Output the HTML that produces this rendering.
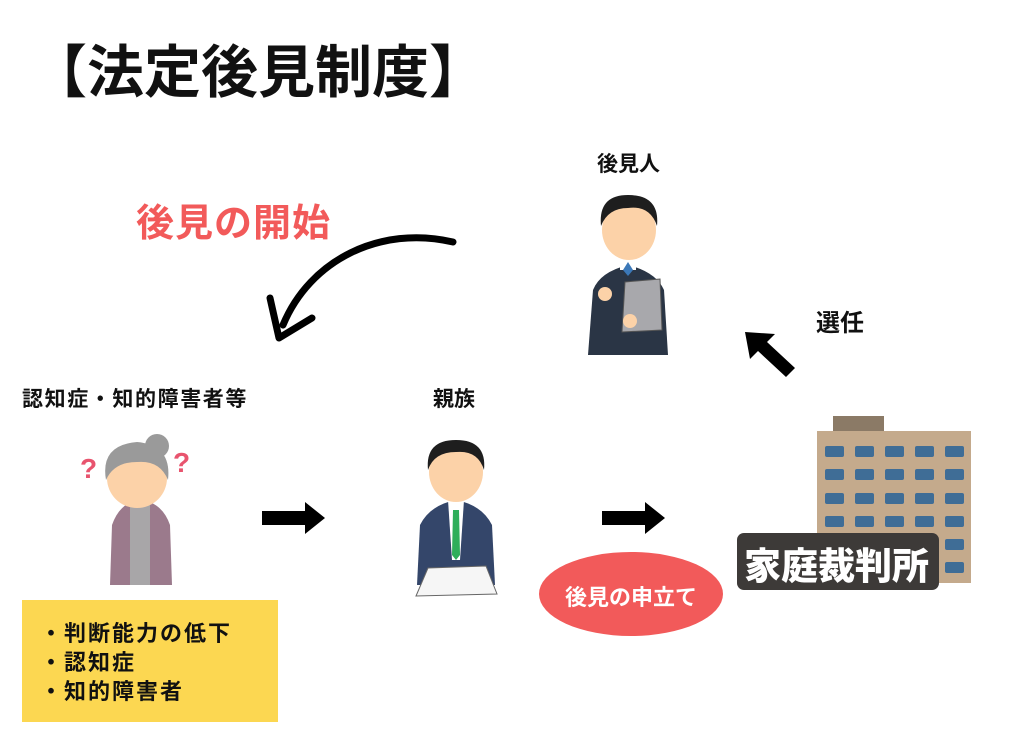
<!DOCTYPE html>
<html><head><meta charset="utf-8"><style>
body{margin:0;width:1025px;height:754px;background:#fff;overflow:hidden;position:relative;font-family:"Liberation Sans","Noto Sans CJK JP",sans-serif}
.t{position:absolute;white-space:nowrap;font-weight:bold;color:#111}
</style></head><body>
<svg width="1025" height="754" style="position:absolute;left:0;top:0">
<path d="M453,242 C380,225 310,260 283,325" fill="none" stroke="#000" stroke-width="7" stroke-linecap="round"/>
<path d="M270,298 L279,338 L312,318" fill="none" stroke="#000" stroke-width="7" stroke-linecap="round" stroke-linejoin="round"/>
<polygon points="262,511 305,511 305,502 325,518 305,534 305,525 262,525" fill="#000"/>
<polygon points="602,511 645,511 645,502 665,518 645,534 645,525 602,525" fill="#000"/>
<polygon points="745,332 775,334 767,342 795,368 786,377 758,351 750,359" fill="#000"/>
<ellipse cx="631" cy="594" rx="92" ry="42" fill="#f25a5a"/>
<rect x="22" y="600" width="256" height="122" fill="#fcd751"/>
<rect x="833" y="416" width="51" height="16" fill="#8b7a66"/>
<rect x="817" y="431" width="154" height="152" fill="#c4aa8c"/>
<g fill="#3f6d96">
<g id="r"><rect x="825" y="446" width="19" height="11" rx="2"/><rect x="855" y="446" width="19" height="11" rx="2"/><rect x="885" y="446" width="19" height="11" rx="2"/><rect x="915" y="446" width="19" height="11" rx="2"/><rect x="945" y="446" width="19" height="11" rx="2"/></g>
<use href="#r" y="23"/><use href="#r" y="47"/><use href="#r" y="70"/><use href="#r" y="93"/><use href="#r" y="116"/>
</g>
<rect x="737" y="533" width="202" height="57" rx="7" fill="#3d3a38"/>
<path d="M588,355 L593,290 Q600,272 628,265 Q656,272 664,290 L668,355 Z" fill="#2a3545"/>
<rect x="620" y="258" width="16" height="12" fill="#fff"/>
<polygon points="628,262 633,270 628,276 623,270" fill="#3b78b8"/>
<ellipse cx="629" cy="230" rx="27" ry="30" fill="#fcd2a8"/>
<path d="M601,226 Q598,195 628,195 Q660,195 657,226 Q650,205 628,208 Q608,208 601,226Z" fill="#1e1e1e"/>
<polygon points="625,282 660,279 662,330 622,332" fill="#a8a8ac" stroke="#555"/>
<circle cx="605" cy="294" r="7" fill="#fcd2a8"/>
<circle cx="630" cy="321" r="7" fill="#fcd2a8"/>
<path d="M417,585 L420,525 Q430,505 456,500 Q482,505 492,525 L495,585 Z" fill="#34466a"/>
<polygon points="448,500 464,500 460,560 452,560" fill="#fff"/>
<polygon points="453,510 459,510 460,555 456,560 452,555" fill="#2eae5a"/>
<ellipse cx="456" cy="472" rx="27" ry="30" fill="#fcd2a8"/>
<path d="M428,470 Q425,440 456,440 Q487,440 484,470 Q478,450 456,452 Q434,452 428,470Z" fill="#1e1e1e"/>
<polygon points="428,568 486,566 497,594 416,596" fill="#f6f6f6" stroke="#666"/>
<path d="M110,585 L112,525 Q120,502 140,500 Q162,502 170,525 L172,585 Z" fill="#9b7a8c"/>
<rect x="130" y="505" width="20" height="80" fill="#a8a6a8"/>
<ellipse cx="137" cy="478" rx="30" ry="30" fill="#fcd2a8"/>
<path d="M106,480 Q100,445 137,442 Q172,445 168,480 Q160,460 137,462 Q114,462 106,480Z" fill="#9a9a9a"/>
<circle cx="157" cy="446" r="12" fill="#9a9a9a"/>
<text x="80" y="478" font-size="28" font-weight="bold" fill="#e8546e">?</text>
<text x="173" y="472" font-size="28" font-weight="bold" fill="#e8546e">?</text>
</svg>
<div class="t" style="left:30px;top:27px;font-size:57px;">【法定後見制度】</div>
<div class="t" style="left:136px;top:192px;font-size:38px;color:#f25a5a;letter-spacing:1px">後見の開始</div>
<div class="t" style="left:597px;top:148px;font-size:21px">後見人</div>
<div class="t" style="left:816px;top:303px;font-size:24px">選任</div>
<div class="t" style="left:22px;top:383px;font-size:21px;letter-spacing:1.6px">認知症・知的障害者等</div>
<div class="t" style="left:433px;top:383px;font-size:21px">親族</div>
<div class="t" style="left:565px;top:580px;font-size:22px;color:#fff">後見の申立て</div>
<div class="t" style="left:744px;top:536px;font-size:37px;color:#fff;font-weight:900">家庭裁判所</div>
<div class="t" style="left:40px;top:619px;font-size:22px;line-height:29px;letter-spacing:2px">・判断能力の低下<br>・認知症<br>・知的障害者</div>
</body></html>
